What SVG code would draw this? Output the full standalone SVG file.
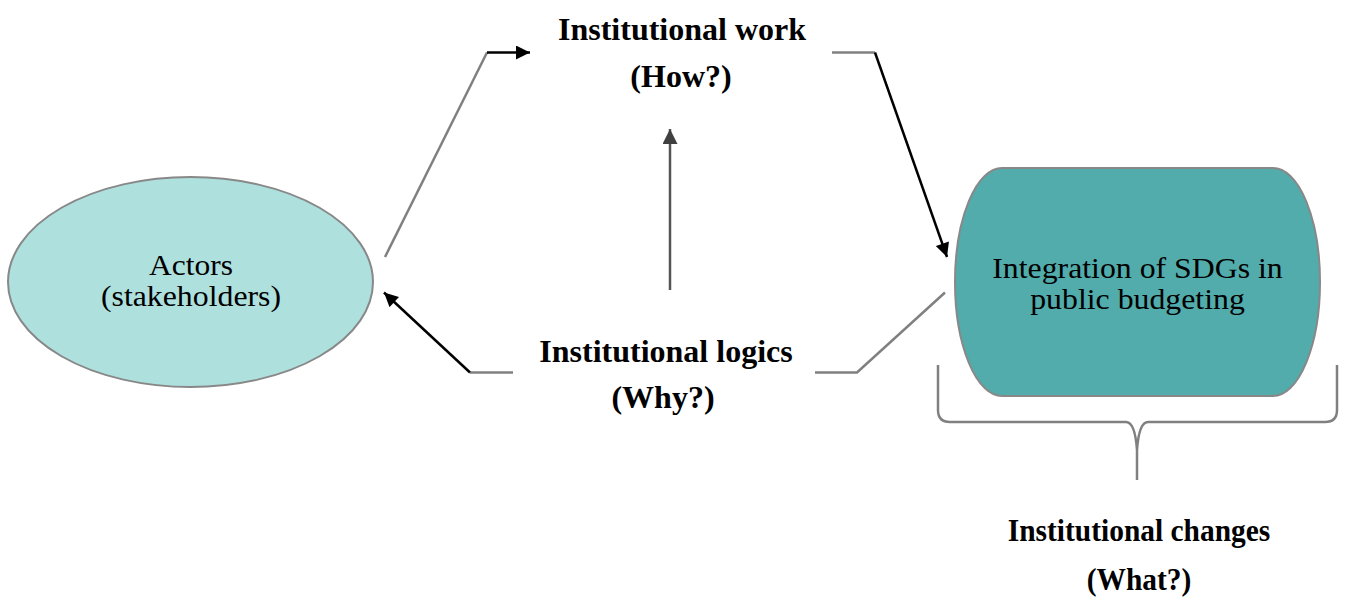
<svg xmlns="http://www.w3.org/2000/svg" width="1346" height="597" viewBox="0 0 1346 597">
<style>
.bold{font-family:"Liberation Serif","Times New Roman",serif;font-weight:bold;fill:#000;text-anchor:middle;font-size:32px}
.reg{font-family:"Liberation Serif","Times New Roman",serif;fill:#000;text-anchor:middle;font-size:30px}
.gray{fill:none;stroke:#808080;stroke-width:2.5}
.blk{fill:none;stroke:#000;stroke-width:2.5}
</style>
<defs>
<marker id="ah" viewBox="0 0 10 10" refX="10" refY="5" markerWidth="15" markerHeight="14" markerUnits="userSpaceOnUse" orient="auto">
<path d="M0,0 L10,5 L0,10 z" fill="#000"/>
</marker>
<marker id="ahd" viewBox="0 0 10 10" refX="10" refY="5" markerWidth="15" markerHeight="15" markerUnits="userSpaceOnUse" orient="auto">
<path d="M0,0 L10,5 L0,10 z" fill="#404040"/>
</marker>
</defs>
<g id="connectors">
<path class="gray" d="M385,257 L487,52.5"/>
<path class="blk" d="M487,52.5 L530,52.5" marker-end="url(#ah)"/>
<path class="gray" d="M832,52.5 L875,52.5"/>
<path class="blk" d="M875,52.5 L947,257" marker-end="url(#ah)"/>
<path class="gray" d="M513,372.5 L470,372.5"/>
<path class="blk" d="M470,372.5 L384,292.5" marker-end="url(#ah)"/>
<path class="gray" d="M815,372.5 L857,372.5 L945,292.5"/>
<path d="M670,290 L670,129" fill="none" stroke="#555" stroke-width="2.5" marker-end="url(#ahd)"/>
<path class="gray" d="M938,365 V410 Q938,422 950,422 H1126 Q1135,422 1137,450 V480 M1137,450 Q1139,422 1148,422 H1325 Q1337,422 1337,410 V365"/>
</g>
<g id="actors">
<ellipse cx="190.5" cy="282" rx="182.5" ry="105" fill="#AEE0DE" stroke="#888" stroke-width="2"/>
<text class="reg" transform="translate(191,275) scale(1.05,1)">Actors</text>
<text class="reg" transform="translate(191,306) scale(1.06,1)">(stakeholders)</text>
</g>
<g id="integration">
<rect x="955" y="168" width="365" height="228" rx="47" ry="114" fill="#52ACAC" stroke="#888" stroke-width="2"/>
<text class="reg" transform="translate(1137.5,278) scale(1.06,1)">Integration of SDGs in</text>
<text class="reg" transform="translate(1137.5,309) scale(1.06,1)">public budgeting</text>
</g>
<g id="work">
<text class="bold" x="682" y="40">Institutional work</text>
<text class="bold" x="681" y="87">(How?)</text>
</g>
<g id="logics">
<text class="bold" x="666" y="362">Institutional logics</text>
<text class="bold" x="663" y="408">(Why?)</text>
</g>
<g id="changes">
<text class="bold" font-size="30" transform="translate(1139,541) scale(0.92,1)">Institutional changes</text>
<text class="bold" font-size="30" transform="translate(1139,590) scale(0.92,1)">(What?)</text>
</g>
</svg>
